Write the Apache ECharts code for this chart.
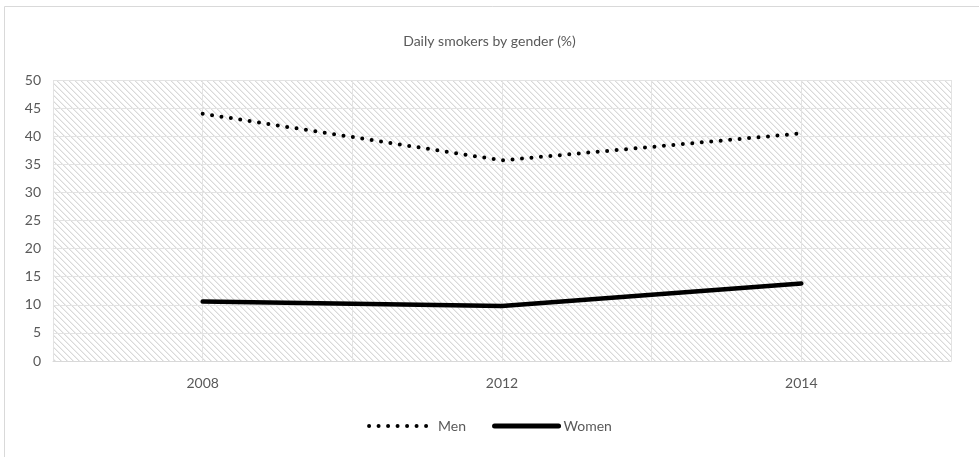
<!DOCTYPE html>
<html><head><meta charset="utf-8">
<script src="https://cdn.jsdelivr.net/npm/echarts@6/dist/echarts.min.js"></script>
<style>
html,body{margin:0;padding:0;background:#fff;}
#c{width:979px;height:457px;}
</style></head>
<body><div id="c"></div>
<script>
const years = ['2008', '2012', '2014'];
const men = [44.0, 35.7, 40.5];
const women = [10.6, 9.8, 13.8];
const yTicks = [0, 5, 10, 15, 20, 25, 30, 35, 40, 45, 50];

function hatch() {
  const n = 6;
  const cv = document.createElement('canvas');
  cv.width = n; cv.height = n;
  const ctx = cv.getContext('2d');
  ctx.fillStyle = '#ffffff';
  ctx.fillRect(0, 0, n, n);
  for (let i = 0; i < n; i++) {
    ctx.fillStyle = '#d9d9d9';
    ctx.fillRect(i, i, 1, 1);
    ctx.fillStyle = '#eeeeee';
    ctx.fillRect((i + 1) % n, i, 1, 1);
  }
  return cv;
}

const chart = echarts.init(document.getElementById('c'), null, {renderer: 'canvas'});
const font = 'Lato, "Open Sans", sans-serif';
chart.setOption({
  animation: false,
  textStyle: {fontFamily: font},
  graphic: [{
    type: 'rect', shape: {x: 4.5, y: 6.5, width: 990, height: 470},
    style: {fill: 'none', stroke: '#d9d9d9', lineWidth: 1}, silent: true, z: -10
  }],
  title: {
    text: 'Daily smokers by gender (%)', left: 'center', top: 29,
    textStyle: {fontSize: 14, fontWeight: 'normal', color: '#595959', fontFamily: font}
  },
  legend: {
    bottom: 19, left: 'center', itemWidth: 64, itemHeight: 12, itemGap: 26,
    textStyle: {fontSize: 14, color: '#595959', fontFamily: font},
    itemStyle: {opacity: 0},
    data: [
      {name: 'Men', lineStyle: {color: '#000', width: 4, type: [0, 9.5], cap: 'round'}},
      {name: 'Women', lineStyle: {color: '#000', width: 5, cap: 'round'}}
    ]
  },
  grid: {
    left: 53, right: 28, top: 80, bottom: 96, show: true,
    backgroundColor: {image: hatch(), repeat: 'repeat'}, borderWidth: 0
  },
  xAxis: [{
    type: 'category', data: years, boundaryGap: true,
    axisLine: {show: true, lineStyle: {color: '#d9d9d9', width: 1}},
    axisTick: {show: false},
    axisLabel: {color: '#595959', fontSize: 14, margin: 15, fontFamily: font},
    splitLine: {show: false}
  }, {
    type: 'value', min: 0, max: 6, interval: 1, show: true, position: 'bottom',
    axisLine: {show: false}, axisTick: {show: false}, axisLabel: {show: false},
    splitLine: {show: true, lineStyle: {color: '#e3e3e3', width: 1}}
  }],
  yAxis: {
    type: 'value', min: 0, max: 50, interval: 5,
    axisLine: {show: false}, axisTick: {show: false},
    axisLabel: {color: '#595959', fontSize: 14, margin: 12, fontFamily: font,
      formatter: v => yTicks.includes(v) ? String(v) : ''},
    splitLine: {show: true, lineStyle: {color: '#e3e3e3', width: 1}}
  },
  series: [{
    name: 'Men', type: 'line', data: men, xAxisIndex: 0, symbol: 'none',
    lineStyle: {color: '#000', width: 4, type: [0, 9.5], cap: 'round'},
    itemStyle: {color: '#000'}, z: 5
  }, {
    name: 'Women', type: 'line', data: women, xAxisIndex: 0, symbol: 'none',
    lineStyle: {color: '#000', width: 4.5, cap: 'round'},
    itemStyle: {color: '#000'}, z: 5
  }]
});
</script>
</body></html>
